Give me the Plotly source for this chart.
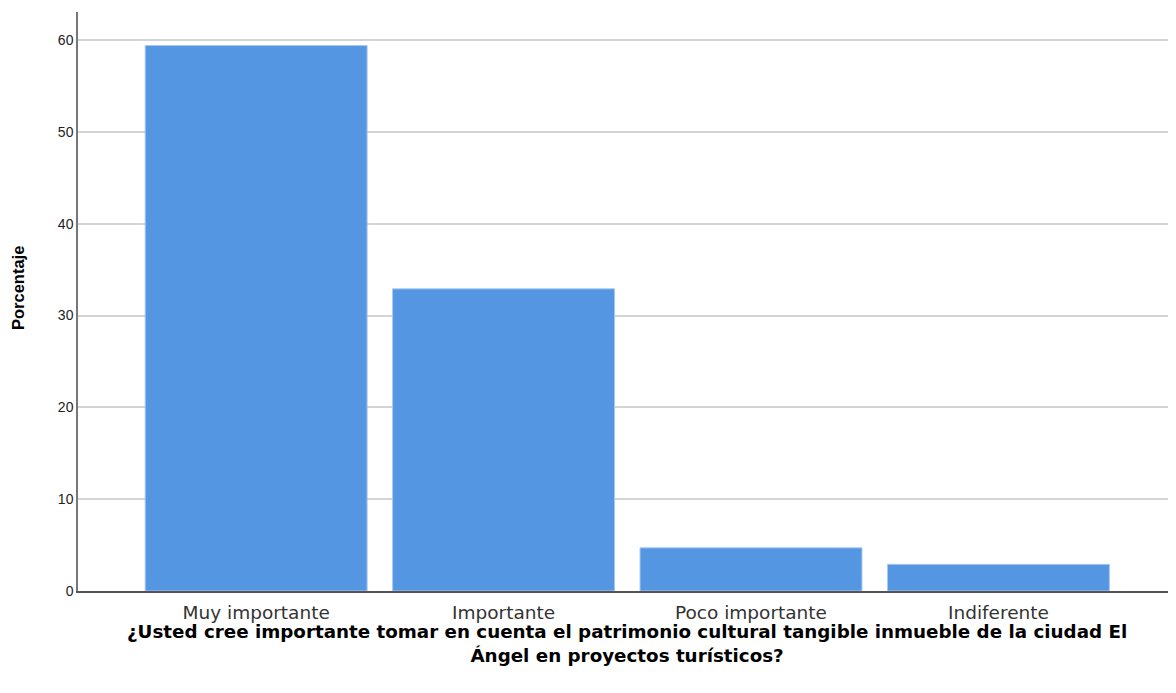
import plotly.graph_objects as go

categorias = ["Muy importante", "Importante", "Poco importante", "Indiferente"]
porcentajes = [59.4, 32.9, 4.7, 2.9]
y_ticks = [0, 10, 20, 30, 40, 50, 60]
titulo_x = [
    "¿Usted cree importante tomar en cuenta el patrimonio cultural tangible inmueble de la ciudad El",
    "Ángel en proyectos turísticos?",
]

fig = go.Figure(go.Bar(
    x=categorias,
    y=porcentajes,
    marker=dict(color="#5596E3", line=dict(color="#A8C8F0", width=1)),
    width=0.897,
))

# the page body has an 8px margin, so the figure is shifted by that amount
alto_plot = 579
ancho_plot = 1106
fig.update_layout(
    width=1176, height=677,
    margin=dict(l=70, r=0, t=4, b=94),
    plot_bgcolor="white", paper_bgcolor="white",
    font=dict(family="Liberation Sans, Arial, sans-serif", color="#222"),
    showlegend=False,
    xaxis=dict(
        range=[-0.72, 3.75], showgrid=False, showline=True,
        linecolor="#555", linewidth=1.5, ticks="", ticklabelstandoff=4,
        tickfont=dict(family="DejaVu Sans", size=18.5, color="#333"),
    ),
    yaxis=dict(
        range=[0, 63.05], tickvals=y_ticks, showgrid=True,
        gridcolor="#D4D4D4", gridwidth=1.5, showline=True,
        linecolor="#777", linewidth=1.5, ticks="", zeroline=False,
        tickfont=dict(size=14, color="#222"),
    ),
)

fig.add_annotation(
    text="<b>Porcentaje</b>", textangle=-90,
    xref="paper", yref="paper", x=-60 / ancho_plot, y=(591 - 288) / alto_plot,
    xanchor="center", yanchor="middle", showarrow=False,
    font=dict(size=16.5, color="#000"),
)

fig.add_annotation(
    text="<b>" + "<br>".join(titulo_x) + "</b>",
    xref="paper", yref="paper", x=(627 - 78) / ancho_plot, y=-52 / alto_plot,
    yanchor="middle", showarrow=False,
    font=dict(family="DejaVu Sans", size=18.3, color="#000"),
)

fig.write_html("out.html")
